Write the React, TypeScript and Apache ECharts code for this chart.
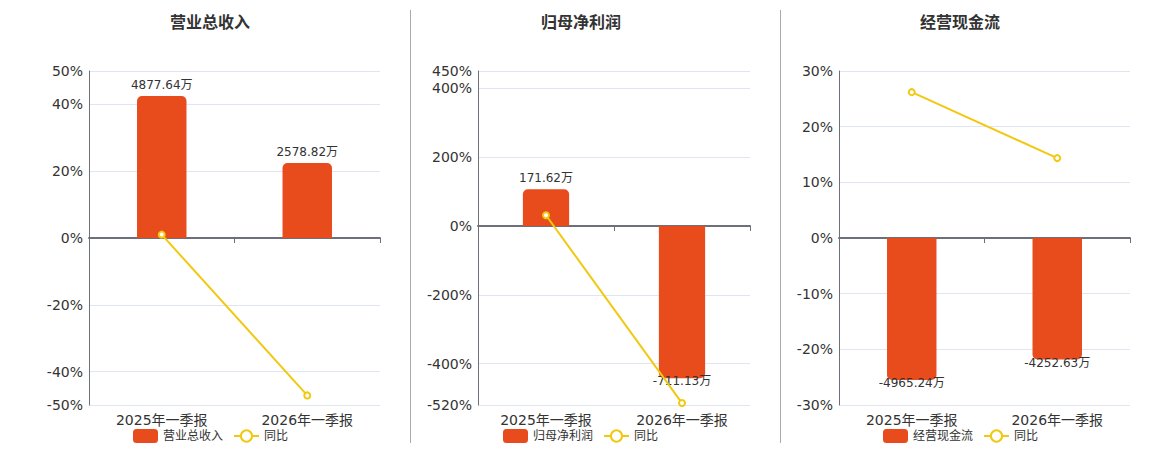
import React, { useEffect, useRef } from "react";
import * as echarts from "echarts";

const categories = ["2025年一季报", "2026年一季报"];
const titles = ["营业总收入", "归母净利润", "经营现金流"];
const yoyName = "同比";

const revenue = [4877.64, 2578.82];
const revenueYoy = [1.02, -47.13];
const profit = [171.62, -711.13];
const profitYoy = [31.0, -514.36];
const cashflow = [-4965.24, -4252.63];
const cashflowYoy = [26.2, 14.35];

const yoyAxisMin = [-50, -520, -30];
const yoyAxisMax = [50, 450, 30];
const barAxisMin = [-5738, -836.6, -5841];
const barAxisMax = [5738, 724, 5841];

const barSeriesData = [revenue, profit, cashflow];
const yoySeriesData = [revenueYoy, profitYoy, cashflowYoy];

// layout (pixels)
const gridLeft = [89, 478, 839];
const gridWidth = [291, 272, 291];
const titleLeft = [165, 536, 915];
const legendLeft = [128, 498, 878];

const BAR_COLOR = "#E84C1D";
const LINE_COLOR = "#F2C811";
const AXIS_COLOR = "#6E7079";
const SPLIT_COLOR = "#E0E6F1";
const TEXT_COLOR = "#333";

function buildOption() {
  const grid: any[] = [];
  const xAxis: any[] = [];
  const yAxis: any[] = [];
  const series: any[] = [];
  const title: any[] = [];
  const legend: any[] = [];

  for (let i = 0; i < 3; i++) {
    grid.push({ left: gridLeft[i], top: 71, width: gridWidth[i], height: 334 });
    title.push({
      text: titles[i],
      left: titleLeft[i],
      top: 9,
      textStyle: { fontSize: 16, fontWeight: "bold", color: TEXT_COLOR },
    });
    legend.push({
      left: legendLeft[i],
      top: 424,
      itemWidth: 25,
      itemHeight: 14,
      itemGap: 10,
      data: [titles[i], yoyName],
      textStyle: { fontSize: 12, color: TEXT_COLOR },
    });
    // zero-line axis
    xAxis.push({
      type: "category",
      gridIndex: i,
      data: categories,
      axisLine: { show: true, onZero: true, lineStyle: { color: AXIS_COLOR, width: 2 } },
      axisTick: { show: true, lineStyle: { color: AXIS_COLOR } },
      axisLabel: { show: false },
      splitLine: { show: false },
    });
    // label axis at bottom
    xAxis.push({
      type: "category",
      gridIndex: i,
      position: "bottom",
      data: categories,
      axisLine: { show: false, onZero: false },
      axisTick: { show: false },
      axisLabel: { show: true, fontSize: 14, color: TEXT_COLOR, margin: 8 },
      splitLine: { show: false },
    });
    yAxis.push({
      type: "value",
      gridIndex: i,
      position: "left",
      min: yoyAxisMin[i],
      max: yoyAxisMax[i],
      axisLine: { show: true, lineStyle: { color: AXIS_COLOR, width: 1 } },
      axisTick: { show: false },
      axisLabel: { formatter: "{value}%", fontSize: 14, color: TEXT_COLOR, margin: 6 },
      splitLine: { show: true, lineStyle: { color: SPLIT_COLOR } },
    });
    yAxis.push({
      type: "value",
      gridIndex: i,
      position: "right",
      show: false,
      min: barAxisMin[i],
      max: barAxisMax[i],
      splitLine: { show: false },
    });

    series.push({
      type: "bar",
      name: titles[i],
      xAxisIndex: i * 2,
      yAxisIndex: i * 2 + 1,
      barWidth: "34%",
      itemStyle: { color: BAR_COLOR },
      z: 2,
      data: barSeriesData[i].map((v) => ({
        value: v,
        itemStyle: { borderRadius: v >= 0 ? [5, 5, 0, 0] : [0, 0, 5, 5] },
        label:
          v >= 0
            ? { show: true, position: "top", distance: 5 }
            : { show: true, position: "bottom", distance: 0, offset: [0, -3] },
      })),
      label: {
        show: true,
        fontSize: 12,
        color: TEXT_COLOR,
        formatter: (p: any) => `${Number(p.value).toFixed(2)}万`,
      },
    });

    series.push({
      type: "line",
      name: yoyName,
      xAxisIndex: i * 2,
      yAxisIndex: i * 2,
      symbol: "emptyCircle",
      symbolSize: 6,
      z: 5,
      lineStyle: { color: LINE_COLOR, width: 2 },
      itemStyle: { color: LINE_COLOR, borderWidth: 2 },
      data: yoySeriesData[i],
    });
  }

  return {
    animation: false,
    textStyle: { fontFamily: "DejaVu Sans, 'Noto Sans CJK SC', sans-serif" },
    title,
    legend,
    grid,
    xAxis,
    yAxis,
    series,
    tooltip: { show: false },
    graphic: [
      { type: "line", shape: { x1: 410.5, y1: 10, x2: 410.5, y2: 443 }, style: { stroke: "#aaa", lineWidth: 1 } },
      { type: "line", shape: { x1: 780.5, y1: 10, x2: 780.5, y2: 443 }, style: { stroke: "#aaa", lineWidth: 1 } },
    ],
  };
}

export default function App() {
  const ref = useRef<HTMLDivElement>(null);
  useEffect(() => {
    if (!ref.current) return;
    const chart = echarts.init(ref.current, null, { renderer: "svg" });
    chart.setOption(buildOption() as any);
    return () => chart.dispose();
  }, []);
  return (
    <div
      ref={ref}
      style={{ position: "absolute", left: 0, top: 0, width: 1160, height: 450, background: "#fff" }}
    />
  );
}
